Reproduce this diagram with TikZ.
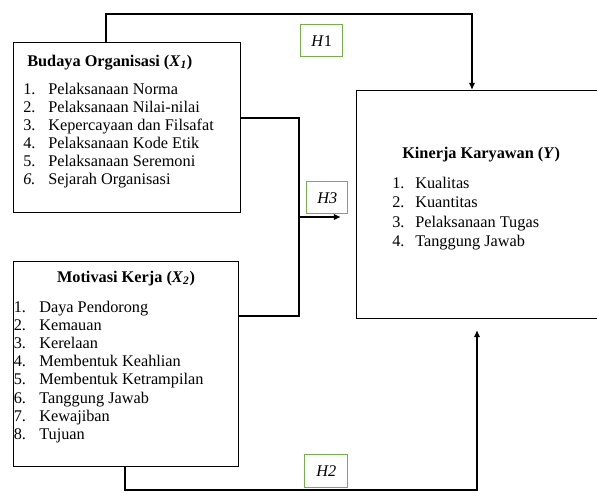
\documentclass[tikz,border=0pt]{standalone}
\usepackage{fontspec}
\setmainfont{Liberation Serif}
\usetikzlibrary{arrows.meta}
\definecolor{hgreen}{RGB}{112,180,72}
\tikzset{
  box/.style={draw=black, line width=1pt, rectangle, anchor=north west, inner sep=0pt},
  hbox/.style={draw=hgreen, line width=1pt, rectangle, anchor=north west, inner sep=0pt},
  txt/.style={anchor=base west, inner sep=0pt, font=\fontsize{11.4}{13}\selectfont},
  ttl/.style={anchor=base west, inner sep=0pt, font=\fontsize{11.4}{13}\selectfont\bfseries},
  conn/.style={draw=black, line width=1.2pt},
  arr/.style={conn, -{Latex[length=5pt,width=4.5pt]}}
}
\begin{document}
\begin{tikzpicture}[x=0.7pt,y=-0.7pt]
\useasboundingbox (0,0) rectangle (597,493);
% boxes
\node[box, minimum width=227*0.7pt, minimum height=170*0.7pt] (x1) at (13,42) {};
\node[box, minimum width=225*0.7pt, minimum height=205*0.7pt] (x2) at (13,261) {};
\node[box, minimum width=260*0.7pt, minimum height=228*0.7pt] (y) at (356,90) {};
% hypothesis labels
\node[hbox, minimum width=42*0.7pt, minimum height=32*0.7pt] (h1) at (300,24) {};
\node[txt, anchor=center] (h1t) at (h1.center) {\textit{H}1};
\node[hbox, minimum width=41*0.7pt, minimum height=32*0.7pt] (h3) at (306,181) {};
\node[txt, anchor=center] (h3t) at (h3.center) {\textit{H3}};
\node[hbox, minimum width=43*0.7pt, minimum height=33*0.7pt] (h2) at (304,454) {};
\node[txt, anchor=center] (h2t) at (h2.center) {\textit{H2}};
% X1 text
\node[ttl] (x1t) at (27,66) {Budaya Organisasi (\textit{X}\textsubscript{\textit{1}})};
\foreach \i/\n/\t in {0/1./Pelaksanaan Norma,1/2./Pelaksanaan Nilai-nilai,2/3./Kepercayaan dan Filsafat,3/4./Pelaksanaan Kode Etik,4/5./Pelaksanaan Seremoni,5/\textit{6.}/Sejarah Organisasi}{
  \node[txt] (x1n\i) at (23,94+18*\i) {\n};
  \node[txt] (x1i\i) at (48,94+18*\i) {\t};
}
% X2 text
\node[ttl, anchor=base] (x2t) at (126,282) {Motivasi Kerja (\textit{X}\textsubscript{\textit{2}})};
\foreach \i/\n/\t in {0/1./Daya Pendorong,1/2./Kemauan,2/3./Kerelaan,3/4./Membentuk Keahlian,4/5./Membentuk Ketrampilan,5/6./Tanggung Jawab,6/7./Kewajiban,7/8./Tujuan}{
  \node[txt] (x2n\i) at (13.5,312+18.2*\i) {\n};
  \node[txt] (x2i\i) at (39,312+18.2*\i) {\t};
}
% Y text
\node[ttl] (yt) at (402,158) {Kinerja Karyawan (\textit{Y})};
\foreach \i/\n/\t in {0/1./Kualitas,1/2./Kuantitas,2/3./Pelaksanaan Tugas,3/4./Tanggung Jawab}{
  \node[txt] (yn\i) at (392,188+19.5*\i) {\n};
  \node[txt] (yi\i) at (415,188+19.5*\i) {\t};
}
% connector coordinates
\coordinate (a1) at (106,42);
\coordinate (a2) at (106,14);
\coordinate (a3) at (472,14);
\coordinate (a4) at (472,90);
\coordinate (b1) at (240,118);
\coordinate (b2) at (299,118);
\coordinate (b3) at (299,316);
\coordinate (b4) at (238,316);
\coordinate (c1) at (299,217);
\coordinate (c2) at (341,217);
\coordinate (d1) at (125,466);
\coordinate (d2) at (125,490);
\coordinate (d3) at (477,490);
\coordinate (d4) at (477,330);
% H1
\draw[arr] (a1) -- (a2) -- (a3) -- (a4);
% H3
\draw[conn] (b1) -- (b2) -- (b3) -- (b4);
\draw[arr] (c1) -- (c2);
% H2
\draw[arr] (d1) -- (d2) -- (d3) -- (d4);
\end{tikzpicture}
\end{document}
